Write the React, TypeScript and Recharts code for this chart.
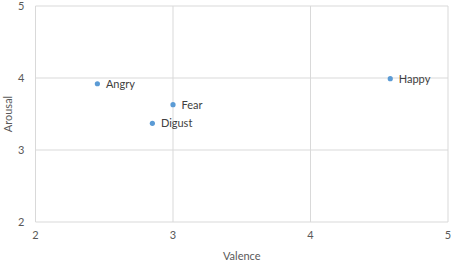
import { ScatterChart, Scatter, XAxis, YAxis, ZAxis, CartesianGrid, LabelList } from 'recharts'

const emotions = ['Angry', 'Fear', 'Digust', 'Happy']
const valence = [2.45, 3.0, 2.85, 4.58]
const arousal = [3.92, 3.63, 3.37, 3.99]
const ticks = [2, 3, 4, 5]

const data = emotions.map((name, i) => ({ name, x: valence[i], y: arousal[i] }))

const font = 'Lato, "Liberation Sans", sans-serif'

// small Excel-style dot
const Dot = (props: any) => <circle cx={props.cx} cy={props.cy} r={2.6} fill="#5b9bd5" />

export default function App() {
  return (
    <div style={{ position: 'absolute', left: 0, top: 0, width: 454, height: 262, background: '#fff' }}>
      <ScatterChart width={454} height={262} margin={{ top: 6, right: 6, bottom: 0, left: 0 }}>
        <CartesianGrid stroke="#d9d9d9" strokeWidth={1} />
        <XAxis
          type="number"
          dataKey="x"
          domain={[2, 5]}
          ticks={ticks}
          height={40}
          axisLine={false}
          tickLine={false}
          tickSize={0}
          tickMargin={9}
          tick={{ fill: '#595959', fontSize: 11, fontFamily: font }}
          label={{ value: 'Valence', position: 'insideBottom', offset: 2.5, fill: '#595959', fontSize: 11, fontFamily: font }}
        />
        <YAxis
          type="number"
          dataKey="y"
          domain={[2, 5]}
          ticks={ticks}
          width={35.5}
          axisLine={false}
          tickLine={false}
          tickSize={0}
          tickMargin={11}
          tick={{ fill: '#595959', fontSize: 11, fontFamily: font }}
          label={{ value: 'Arousal', angle: -90, position: 'insideLeft', offset: 8, fill: '#595959', fontSize: 11, fontFamily: font, style: { textAnchor: 'middle' } }}
        />
        <ZAxis range={[22, 22]} />
        <Scatter data={data} fill="#5b9bd5" shape={Dot} isAnimationActive={false}>
          <LabelList dataKey="name" position="right" offset={4} fill="#404040" fontSize={11} fontFamily={font} />
        </Scatter>
      </ScatterChart>
    </div>
  )
}
